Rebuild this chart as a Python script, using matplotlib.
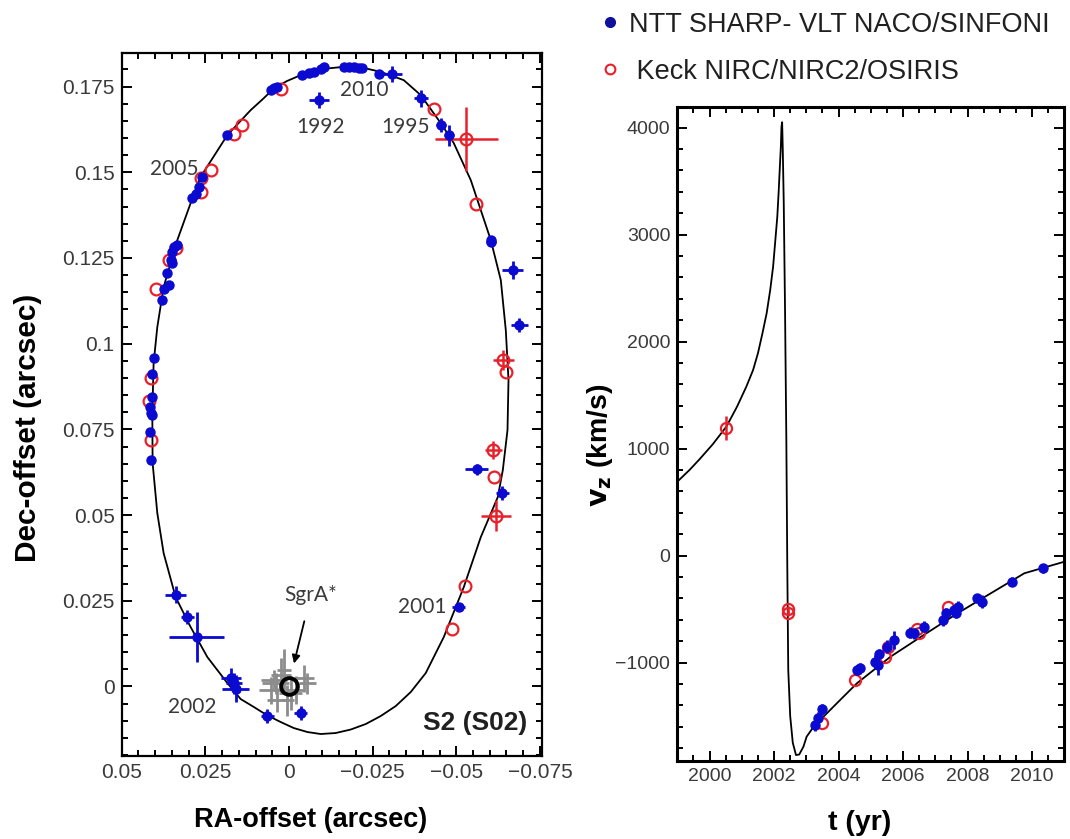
import matplotlib
matplotlib.use("Agg")
import matplotlib.pyplot as plt
from matplotlib.lines import Line2D
from matplotlib.ticker import MultipleLocator, FuncFormatter

# ---------------- data ----------------
# fitted orbit of S2 on the sky (RA-offset, Dec-offset), arcsec
orbit_ra = [-0.01944, -0.01546, -0.01148, -0.00739, -0.00350, 0.00069, 0.00449, 0.00786,
            0.01145, 0.01842, 0.02640, 0.02888, 0.03337, 0.03746, 0.03935, 0.04045,
            0.04084, 0.04075, 0.03935, 0.03746, 0.03388, 0.02939, 0.02440, 0.01842,
            0.01444, 0.01047, 0.00667, 0.00248, -0.00141, -0.00550, -0.00948, -0.01396,
            -0.01845, -0.02293, -0.02742, -0.03190, -0.03639, -0.04087, -0.04626, -0.05224,
            -0.05732, -0.06240, -0.06390, -0.06530, -0.06560, -0.06479, -0.06330, -0.06031,
            -0.05433, -0.04925, -0.04536, -0.03938, -0.03430, -0.02742, -0.02323, -0.01944]
orbit_dec = [0.18059, 0.18068, 0.18030, 0.17966, 0.17835, 0.17659, 0.17447, 0.17133,
             0.16814, 0.16084, 0.14868, 0.14238, 0.13022, 0.11651, 0.10484, 0.09434,
             0.07975, 0.06517, 0.05058, 0.03891, 0.02608, 0.01733, 0.00858, 0.00099,
             -0.00368, -0.00601, -0.00834, -0.01038, -0.01213, -0.01330, -0.01388, -0.01359,
             -0.01257, -0.01097, -0.00863, -0.00572, -0.00163, 0.00391, 0.01441, 0.02900,
             0.04358, 0.05525, 0.06312, 0.07479, 0.08938, 0.10396, 0.11855, 0.13022,
             0.14772, 0.15851, 0.16434, 0.17251, 0.17689, 0.17931, 0.18024, 0.18059]

# NTT / VLT positions without visible error bars
vlt_ra = [-0.0040, -0.0060, -0.0075, -0.0095, -0.0105, -0.0164, -0.0179, -0.0194, -0.0209,
          -0.0219, -0.0269, 0.0045, 0.0035, 0.0055, 0.0184, 0.0259, 0.0269, 0.0279, 0.0289,
          -0.0605, 0.0344, 0.0334, 0.0349, 0.0354, 0.0349, 0.0364, 0.0359, 0.0374, 0.0379,
          0.0404, 0.0408, 0.0408, 0.0416, 0.0411, 0.0408, 0.0414, 0.0411]
vlt_dec = [0.1783, 0.1791, 0.1793, 0.1800, 0.1806, 0.1806, 0.1808, 0.1808, 0.1805,
           0.1803, 0.1788, 0.1745, 0.1749, 0.1740, 0.1608, 0.1487, 0.1458, 0.1438, 0.1424,
           0.1302, 0.1283, 0.1288, 0.1268, 0.1244, 0.1234, 0.1205, 0.1171, 0.1161, 0.1127,
           0.0959, 0.0913, 0.0845, 0.0816, 0.0797, 0.0792, 0.0743, 0.0660]

# NTT / VLT positions with error bars
vlt_e_ra = [-0.0309, -0.0090, -0.0394, -0.0454, -0.0478, -0.0605, -0.0668, -0.0688, -0.0561,
            -0.0638, -0.0507, 0.0339, 0.0304, 0.0276, 0.0174, 0.0164, 0.0159, 0.0065, -0.0035]
vlt_e_dec = [0.1786, 0.1711, 0.1716, 0.1638, 0.1608, 0.1297, 0.1215, 0.1054, 0.0633,
             0.0565, 0.0232, 0.0267, 0.0203, 0.0145, 0.0024, 0.0009, -0.0006, -0.0086, -0.0077]
vlt_e_xerr = [0.0030, 0.0030, 0.0020, 0.0015, 0.0015, 0.0015, 0.0030, 0.0025, 0.0035,
              0.0020, 0.0020, 0.0030, 0.0020, 0.0082, 0.0030, 0.0025, 0.0040, 0.0020, 0.0020]
vlt_e_yerr = [0.0023, 0.0024, 0.0025, 0.0020, 0.0030, 0.0010, 0.0025, 0.0020, 0.0015,
              0.0020, 0.0010, 0.0025, 0.0020, 0.0073, 0.0030, 0.0030, 0.0040, 0.0020, 0.0020]

# Keck positions
keck_ra = [0.0025, 0.0164, 0.0139, 0.0234, 0.0264, 0.0264, -0.0432, -0.0530, -0.0558,
           0.0339, 0.0359, 0.0396, 0.0411, 0.0419, 0.0411, -0.0641, -0.0648, -0.0611,
           -0.0613, -0.0618, -0.0526, -0.0486]
keck_dec = [0.1742, 0.1613, 0.1638, 0.1508, 0.1482, 0.1443, 0.1686, 0.1597, 0.1409,
            0.1278, 0.1244, 0.1161, 0.0899, 0.0833, 0.0719, 0.0952, 0.0918, 0.0690,
            0.0612, 0.0498, 0.0293, 0.0169]
keck_xerr = [0, 0, 0, 0, 0, 0, 0, 0.0095, 0, 0, 0, 0, 0, 0, 0, 0.0030, 0, 0.0025,
             0, 0.0045, 0, 0]
keck_yerr = [0, 0, 0, 0, 0, 0, 0, 0.0093, 0, 0, 0, 0, 0, 0, 0, 0.0030, 0, 0.0025,
             0, 0.0045, 0, 0]

# infrared flare positions of SgrA* (grey)
flare_ra = [0.0025, 0.0040, 0.0055, 0.0015, -0.0045, -0.0055, 0.0005, 0.0035, -0.0005,
            0.0045, -0.0020]
flare_dec = [0.0033, 0.0009, -0.0011, 0.0048, 0.0024, 0.0009, -0.0040, -0.0040, -0.0020,
             0.0019, -0.0010]
flare_xerr = [0.0030, 0.0040, 0.0035, 0.0020, 0.0030, 0.0025, 0.0020, 0.0030, 0.0035,
              0.0040, 0.0025]
flare_yerr = [0.0050, 0.0030, 0.0040, 0.0060, 0.0040, 0.0030, 0.0045, 0.0035, 0.0050,
              0.0030, 0.0040]

year_labels = ["1992", "1995", "2010", "2005", "2002", "2001"]
year_ra = [-0.0095, -0.0349, -0.0225, 0.0344, 0.0289, -0.0399]
year_dec = [0.1633, 0.1632, 0.1740, 0.1511, -0.0059, 0.0232]

# radial velocity model curve (t, v_z)
model_t = [1999.0, 1999.38, 1999.69, 2000.10, 2000.52, 2000.85, 2001.14, 2001.35, 2001.50,
           2001.64, 2001.77, 2001.88, 2001.97, 2002.04, 2002.10, 2002.14, 2002.18, 2002.21,
           2002.23, 2002.25, 2002.27, 2002.30, 2002.34, 2002.38, 2002.41, 2002.44, 2002.50,
           2002.58, 2002.68, 2002.78, 2002.91, 2003.01, 2003.25, 2003.53, 2004.05, 2004.57,
           2005.61, 2006.64, 2007.69, 2008.72, 2009.76, 2011.0]
model_v = [690, 800, 900, 1040, 1204, 1390, 1578, 1734, 1890,
           2077, 2264, 2481, 2699, 2949, 3166, 3385, 3634, 3821,
           4007, 4050, 3800, 3300, 2300, 1100, -100, -1070, -1500,
           -1750, -1865, -1860, -1787, -1693, -1590, -1507, -1350, -1194,
           -946, -743, -540, -353, -166, -58]

# NTT / VLT radial velocities
rv_vlt_t = [2003.27, 2003.35, 2003.50, 2004.57, 2004.67, 2005.14, 2005.24, 2005.50, 2005.71,
            2005.21, 2006.23, 2006.33, 2006.64, 2007.25, 2007.32, 2007.58, 2007.69, 2007.63,
            2008.29, 2008.46, 2009.39, 2010.33]
rv_vlt_v = [-1584, -1522, -1437, -1070, -1054, -992, -921, -852, -790,
            -1023, -721, -727, -665, -603, -540, -509, -478, -534,
            -400, -431, -245, -120]
rv_vlt_err = [60, 60, 50, 50, 50, 60, 50, 60, 80,
              90, 50, 50, 50, 60, 50, 50, 50, 50,
              40, 60, 40, 40]

# Keck radial velocities
rv_keck_t = [2000.5, 2002.44, 2002.44, 2003.50, 2004.52, 2005.45, 2005.53, 2006.49, 2006.44,
             2007.39]
rv_keck_v = [1190, -503, -540, -1568, -1163, -946, -852, -727, -690, -478]
rv_keck_err = [115, 30, 30, 0, 0, 0, 0, 0, 0, 0]

BLUE = "#0a0ad0"
RED = "#e8202a"
GREY = "#8c8c8c"
TXT = "#3a3a3a"

plt.rcParams["font.family"] = ["Liberation Sans", "DejaVu Sans"]

fig = plt.figure(figsize=(10.7, 8.39), dpi=100)

# ---------------- left panel: orbit on the sky ----------------
ax = fig.add_axes([0.1137, 0.0989, 0.3925, 0.8383])
ax.plot(orbit_ra, orbit_dec, color="black", lw=1.3, zorder=2)

ax.errorbar(flare_ra, flare_dec, xerr=flare_xerr, yerr=flare_yerr, fmt="none",
            ecolor=GREY, elinewidth=2.0, zorder=3)
ax.plot([0], [0], ls="none", marker="o", ms=12, mfc="none", mec="black", mew=2.8, zorder=6)

ax.errorbar(keck_ra, keck_dec, xerr=keck_xerr, yerr=keck_yerr, fmt="o", ms=8.5,
            mfc="none", mec=RED, mew=1.6, ecolor=RED, elinewidth=1.8, zorder=4)
ax.plot(vlt_ra, vlt_dec, ls="none", marker="o", ms=6.5, color=BLUE, zorder=5)
ax.errorbar(vlt_e_ra, vlt_e_dec, xerr=vlt_e_xerr, yerr=vlt_e_yerr, fmt="o", ms=6.5,
            color=BLUE, ecolor=BLUE, elinewidth=2.0, zorder=5)

for lab, x, y in zip(year_labels, year_ra, year_dec):
    ax.text(x, y, lab, ha="center", va="center", fontsize=15, color=TXT,
            family=["Lato", "DejaVu Sans"])
ax.annotate("SgrA*", xy=(-0.0015, 0.0067), xytext=(-0.0065, 0.0267), ha="center",
            va="center", fontsize=15, color=TXT, family=["Lato", "DejaVu Sans"],
            arrowprops=dict(arrowstyle="-|>", color="black", lw=1.3,
                            shrinkA=10, shrinkB=0, mutation_scale=12))
ax.text(-0.0712, -0.0107, "S2 (S02)", ha="right", va="center", fontsize=19,
        fontweight="bold", color="#202020")

ax.set_xlim(0.05, -0.0755)
ax.set_ylim(-0.0203, 0.1849)
ax.xaxis.set_major_locator(MultipleLocator(0.025))
ax.xaxis.set_minor_locator(MultipleLocator(0.005))
ax.yaxis.set_major_locator(MultipleLocator(0.025))
ax.yaxis.set_minor_locator(MultipleLocator(0.005))
ax.xaxis.set_major_formatter(FuncFormatter(lambda v, p: "0" if abs(v) < 1e-9 else ("%g" % v).replace("-", "\u2212")))
ax.yaxis.set_major_formatter(FuncFormatter(lambda v, p: "0" if abs(v) < 1e-9 else "%g" % v))
ax.tick_params(which="both", direction="in", top=True, right=True, labelsize=15,
               labelcolor=TXT, width=1.4)
ax.tick_params(which="major", length=7, pad=5)
ax.tick_params(which="minor", length=4.5)
for s in ax.spines.values():
    s.set_linewidth(1.6)
ax.set_xlabel("RA-offset (arcsec)", fontsize=19.5, fontweight="bold")
ax.set_ylabel("Dec-offset (arcsec)", fontsize=21.5, fontweight="bold")
ax.xaxis.set_label_coords(0.45, -0.072)
ax.yaxis.set_label_coords(-0.19, 0.466)

# ---------------- right panel: radial velocity ----------------
bx = fig.add_axes([0.6330, 0.0933, 0.3617, 0.7788])
bx.plot(model_t, model_v, color="black", lw=1.3, zorder=2)
bx.errorbar(rv_keck_t, rv_keck_v, yerr=rv_keck_err, fmt="o", ms=8, mfc="none",
            mec=RED, mew=1.6, ecolor=RED, elinewidth=1.8, zorder=4)
bx.errorbar(rv_vlt_t, rv_vlt_v, yerr=rv_vlt_err, fmt="o", ms=6.5, color=BLUE,
            ecolor=BLUE, elinewidth=2.0, zorder=5)

bx.set_xlim(1999, 2011)
bx.set_ylim(-1918, 4189)
bx.xaxis.set_major_locator(MultipleLocator(2))
bx.xaxis.set_minor_locator(MultipleLocator(0.5))
bx.yaxis.set_major_locator(MultipleLocator(1000))
bx.yaxis.set_minor_locator(MultipleLocator(200))
bx.yaxis.set_major_formatter(FuncFormatter(lambda v, p: ("%d" % v).replace("-", "\u2212")))
bx.tick_params(which="both", direction="in", top=True, right=True, labelsize=14,
               labelcolor=TXT, width=1.4)
bx.tick_params(which="major", length=7, pad=5)
bx.tick_params(which="minor", length=4.5)
for s in bx.spines.values():
    s.set_linewidth(2.2)
bx.set_xlabel("t (yr)", fontsize=20.5, fontweight="bold")
bx.set_ylabel(r"$\mathbf{v_z}$ (km/s)", fontsize=20.5, fontweight="bold")
bx.xaxis.set_label_coords(0.471, -0.0755)
bx.yaxis.set_label_coords(-0.16, 0.483)

# legend at the top right
handles = [Line2D([], [], ls="none", marker="o", ms=7, color="#10109a"),
           Line2D([], [], ls="none", marker="o", ms=7, mfc="none", mec=RED, mew=1.5)]
fig.legend(handles, ["NTT SHARP- VLT NACO/SINFONI", " Keck NIRC/NIRC2/OSIRIS"],
           loc="upper left", bbox_to_anchor=(0.535, 1.015), frameon=False, fontsize=19.5,
           labelspacing=0.78, handletextpad=0.2, handlelength=1.0, labelcolor="#202020")

fig.savefig("out.png", dpi=100)
